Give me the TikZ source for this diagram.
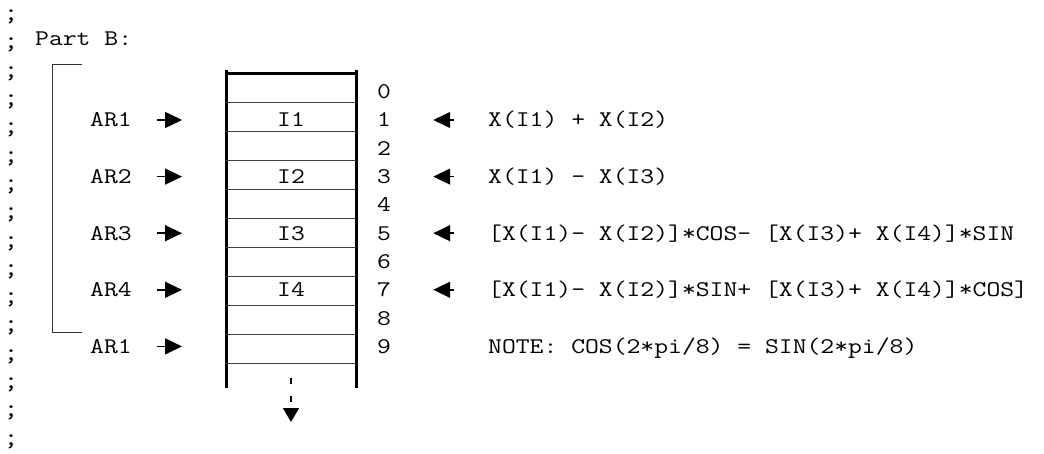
\documentclass[tikz,border=0pt]{standalone}
\usepackage{fontspec}
\setmonofont{Latin Modern Mono}[FakeStretch=1.2]
\usetikzlibrary{arrows.meta, positioning, calc}

\begin{document}
\begin{tikzpicture}[
			x=1pt, y=-1pt,
			txt/.style={font=\ttfamily\fontsize{22.4}{28}\selectfont, inner sep=0pt, anchor=base west, text height=14pt, text depth=0pt},
			semi/.style={font=\ttfamily\fontsize{25}{28}\selectfont, inner sep=0pt},
			frame/.style={line width=3pt, black},
			cellline/.style={line width=1pt, black!75},
			bracket/.style={line width=1pt, black!80},
			ptr/.style={-{Triangle[length=17pt,width=16pt]}, line width=1.5pt},
			more/.style={-{Triangle[length=14pt,width=16pt]}, line width=1.5pt, dash pattern=on 6pt off 12pt}
			]
			\useasboundingbox (0,0) rectangle (1044,454);
			
			\foreach \k in {0,...,15}
				\node[semi] (s\k) at (11,{17+28.3*\k}) {;};
			\node[txt] (partb) at (35,46) {Part B:};
			
			\coordinate (boxl) at (226,74);
			\coordinate (boxr) at (356,74);
			\draw[frame] (226,70) -- (226,388);
			\draw[frame] (356,70) -- (356,388);
			\draw[frame] (boxl) -- (boxr);
			\foreach \r in {1,...,10}
				\draw[cellline] (226,{74+28.9*\r}) -- (356,{74+28.9*\r});
			
			\foreach \r in {0,...,9}
				\node[txt] (n\r) at (377,{98.7+28.3*\r}) {\r};
			
			\foreach \r/\t in {1/I1, 3/I2, 5/I3, 7/I4}
				\node[txt, anchor=base] (i\r) at (291,{98.7+28.3*\r}) {\t};
			
			\foreach \r/\t in {1/AR1, 3/AR2, 5/AR3, 7/AR4, 9/AR1} {
				\node[txt] (ar\r) at (90,{98.7+28.3*\r}) {\t};
				\draw[ptr, shorten <=25.5pt, shorten >=44pt] (ar\r.east) -- (ar\r.east -| boxl);
			}
			
			\node[txt] (f1) at (488,{98.7+28.3*1}) {X(I1) + X(I2)};
			\node[txt] (f3) at (488,{98.7+28.3*3}) {X(I1) – X(I3)};
			\node[txt] (f5) at (488,{98.7+28.3*5}) {[X(I1)– X(I2)]*COS– [X(I3)+ X(I4)]*SIN};
			\node[txt] (f7) at (488,{98.7+28.3*7}) {[X(I1)– X(I2)]*SIN+ [X(I3)+ X(I4)]*COS]};
			\node[txt] (note) at (488,{98.7+28.3*9}) {NOTE: COS(2*pi/8) = SIN(2*pi/8)};
			\foreach \r in {1,3,5,7}
				\draw[ptr, shorten <=34pt, shorten >=42pt] (f\r.west) -- (f\r.west -| n\r.east);
			
			\draw[bracket] (82,65) -- (52,65) -- (52,332) -- (82,332);
			
			\coordinate (down0) at (291,378);
			\coordinate (down1) at (291,422);
			\draw[more] (down0) -- (down1);
		\end{tikzpicture}
\end{document}
